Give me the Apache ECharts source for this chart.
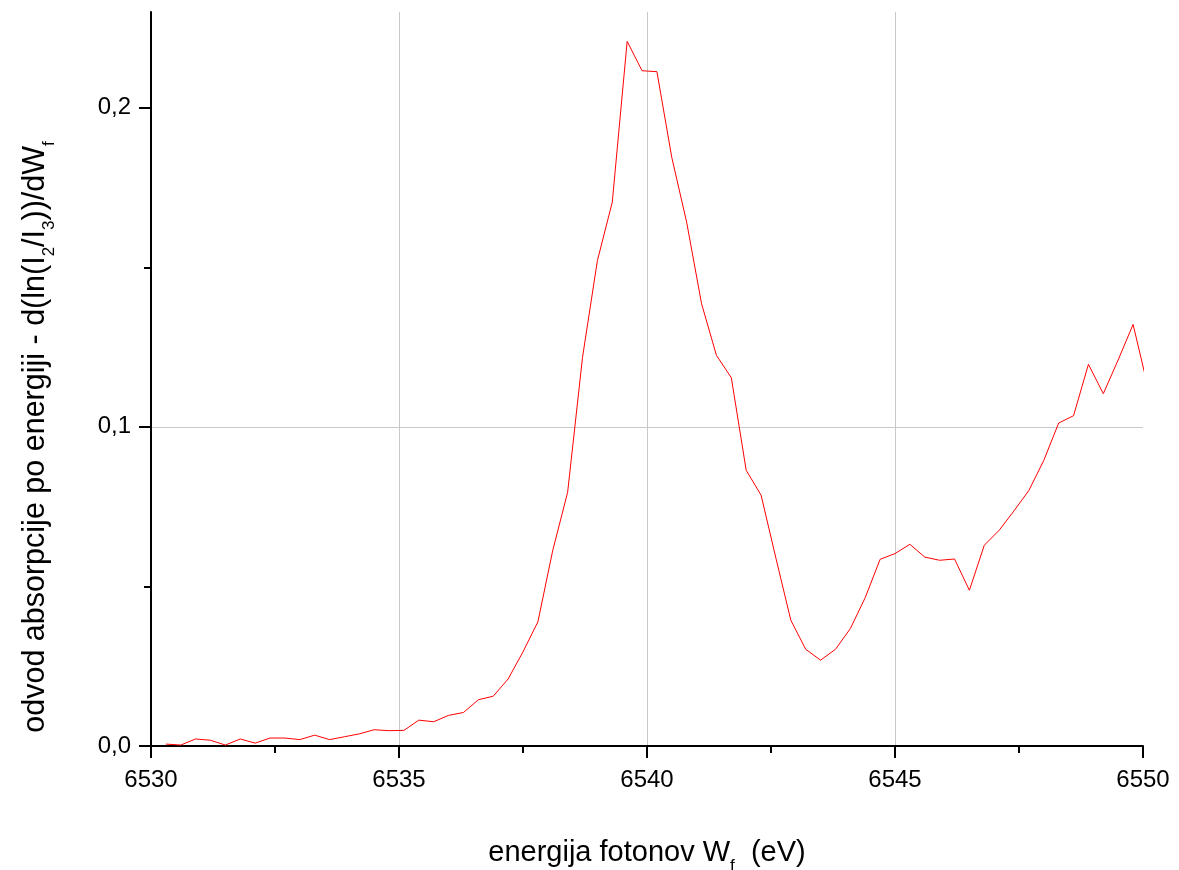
<!DOCTYPE html>
<html>
<head>
<meta charset="utf-8">
<script src="https://cdn.jsdelivr.net/npm/echarts@6/dist/echarts.min.js"></script>
<style>
  html, body { margin: 0; padding: 0; background: #fff; }
  #main { width: 1179px; height: 870px; }
</style>
</head>
<body>
<div id="main"></div>
<script>
// photon energy (eV)
var energy = [
  6530.3, 6530.6, 6530.9, 6531.2, 6531.5, 6531.8, 6532.1, 6532.4, 6532.7, 6533.0,
  6533.3, 6533.6, 6533.9, 6534.2, 6534.5, 6534.8, 6535.1, 6535.4, 6535.7, 6536.0,
  6536.3, 6536.6, 6536.9, 6537.2, 6537.5, 6537.8, 6538.1, 6538.4, 6538.7, 6539.0,
  6539.3, 6539.6, 6539.9, 6540.2, 6540.5, 6540.8, 6541.1, 6541.4, 6541.7, 6542.0,
  6542.3, 6542.6, 6542.9, 6543.2, 6543.5, 6543.8, 6544.1, 6544.4, 6544.7, 6545.0,
  6545.3, 6545.6, 6545.9, 6546.2, 6546.5, 6546.8, 6547.1, 6547.4, 6547.7, 6548.0,
  6548.3, 6548.6, 6548.9, 6549.2, 6549.5, 6549.8, 6550.1
];
// derivative of absorption
var deriv = [
  0.0006, 0.0003, 0.0022, 0.0018, 0.0003, 0.0022, 0.0009, 0.0025, 0.0025, 0.0020,
  0.0034, 0.0020, 0.0029, 0.0038, 0.0051, 0.0048, 0.0049, 0.0081, 0.0076, 0.0096,
  0.0105, 0.0145, 0.0156, 0.0210, 0.0295, 0.0389, 0.0613, 0.0795, 0.1218, 0.1521,
  0.1704, 0.2208, 0.2116, 0.2113, 0.1844, 0.1641, 0.1386, 0.1224, 0.1154, 0.0864,
  0.0786, 0.0588, 0.0394, 0.0303, 0.0269, 0.0303, 0.0368, 0.0465, 0.0585, 0.0603,
  0.0632, 0.0592, 0.0582, 0.0586, 0.0488, 0.0629, 0.0676, 0.0737, 0.0801, 0.0895,
  0.1012, 0.1035, 0.1196, 0.1104, 0.1210, 0.1321, 0.1124
];
var yTicks = [0, 0.1, 0.2];
var yMinorTicks = [0.05, 0.15];

var font = '"Liberation Sans", Arial, sans-serif';
var chart = echarts.init(document.getElementById('main'));

var data = energy.map(function (e, i) { return [e, deriv[i]]; });

// subscript style: pushed down inside its token box
var subStyle = { fontFamily: font, fontSize: 17, color: '#000', padding: [27, 0, 0, 0] };

var option = {
  animation: false,
  backgroundColor: '#fff',
  grid: { left: 151, right: 36, top: 12, bottom: 124, outerBoundsMode: 'none' },
  xAxis: {
    type: 'value',
    min: 6530,
    max: 6550,
    interval: 5,
    name: 'energija fotonov W{sub|f}  (eV)',
    nameLocation: 'middle',
    nameGap: 85,
    nameTextStyle: {
      fontFamily: font, fontSize: 29, color: '#000',
      rich: { sub: subStyle }
    },
    axisLine: { lineStyle: { color: '#000', width: 2 } },
    axisTick: { length: 12, lineStyle: { color: '#000', width: 2 } },
    minorTick: { show: true, splitNumber: 2, length: 7, lineStyle: { color: '#000', width: 2 } },
    axisLabel: {
      fontFamily: font, fontSize: 24, color: '#000', margin: 22,
      formatter: function (v) { return String(v); }
    },
    splitLine: { show: true, showMinLine: false, showMaxLine: false, lineStyle: { color: '#c8c8c8', width: 1 } }
  },
  yAxis: [
    {
      type: 'value',
      min: 0,
      max: 0.23,
      interval: 0.1,
      name: 'odvod absorpcije po energiji - d(ln(I{sub|2}/I{sub|3}))/dW{sub|f}',
      nameLocation: 'middle',
      nameGap: 93,
      nameTextStyle: {
        fontFamily: font, fontSize: 30.5, color: '#000',
        padding: [0, 116, 0, 0],
        rich: { sub: subStyle }
      },
      axisLine: { lineStyle: { color: '#000', width: 2 } },
      axisTick: { length: 12, customValues: yTicks, lineStyle: { color: '#000', width: 2 } },
      axisLabel: {
        fontFamily: font, fontSize: 24, color: '#000', margin: 20,
        customValues: yTicks,
        formatter: function (v) { return v.toFixed(1).replace('.', ','); }
      },
      splitLine: { show: true, showMinLine: false, showMaxLine: false, lineStyle: { color: '#c8c8c8', width: 1 } }
    },
    {
      type: 'value',
      min: 0,
      max: 0.23,
      position: 'left',
      axisLine: { show: false },
      axisTick: { length: 7, customValues: yMinorTicks, lineStyle: { color: '#000', width: 2 } },
      axisLabel: { show: false },
      splitLine: { show: false }
    }
  ],
  series: [
    {
      type: 'line',
      data: data,
      yAxisIndex: 0,
      symbol: 'none',
      clip: true,
      lineStyle: { color: '#ff0000', width: 1 }
    }
  ]
};

chart.setOption(option);
</script>
</body>
</html>
